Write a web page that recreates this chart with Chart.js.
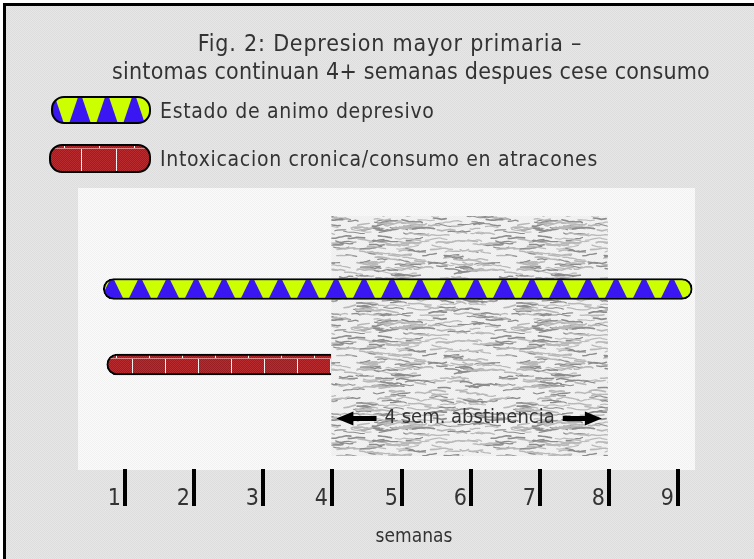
<!DOCTYPE html>
<html>
<head>
<meta charset="utf-8">
<script src="https://cdn.jsdelivr.net/npm/chart.js@4.4.1/dist/chart.umd.min.js"></script>
<style>
  html, body { margin: 0; padding: 0; background: #fff; overflow: hidden; }
  #wrap { width: 754px; height: 559px; position: relative; }
</style>
</head>
<body>
<div id="wrap"><canvas id="chart"></canvas></div>
<script>
const titleLines = ['Fig. 2: Depresion mayor primaria \u2013', 'sintomas continuan 4+ semanas despues cese consumo'];
const seriesLabels = ['Estado de animo depresivo', 'Intoxicacion cronica/consumo en atracones'];
const seriesStart = [0.7, 0.75];   // semanas
const seriesEnd = [9.22, 4.0];
const weekTicks = [1, 2, 3, 4, 5, 6, 7, 8, 9];
const abstinenceWeeks = [4, 8];
const abstinenceLabel = '4 sem. abstinencia';
const axisTitle = 'semanas';

const FONT = "'Liberation Sans Narrow', 'DejaVu Sans Condensed', 'Noto Sans', sans-serif";
const YELLOW = '#ccff00', BLUE = '#3a16f2';
const TEXT = '#333';

function tile(w, h, draw) {
    const c = document.createElement('canvas');
    c.width = w; c.height = h;
    draw(c.getContext('2d'), w, h);
    return c;
}

function dotted(g, w, h, base, dot) {
    g.fillStyle = base;
    g.fillRect(0, 0, w, h);
    g.fillStyle = dot;
    for (let y = 0; y < h; y++)
        for (let x = y % 2; x < w; x += 2) g.fillRect(x, y, 1, 1);
}

function drawTriangles(g, w, h, period, phase) {
    g.fillStyle = BLUE;
    g.fillRect(0, 0, w, h);
    g.fillStyle = YELLOW;
    for (let x0 = phase - period; x0 < w + period; x0 += period) {
        g.beginPath();
        g.moveTo(x0 + period * 0.06, 0);
        g.lineTo(x0 + period * 0.94, 0);
        g.lineTo(x0 + period * 0.59, h);
        g.lineTo(x0 + period * 0.41, h);
        g.closePath();
        g.fill();
    }
}

function drawBricks(g, w, h, brick, phase) {
    dotted(g, w, h, '#b82c2f', '#9a1d21');
    const top = 4;
    g.fillStyle = '#d98a8a';
    g.fillRect(0, top, w, 1);
    g.fillStyle = '#f4f4f4';
    for (let x = phase; x < w + brick; x += brick) {
        g.fillRect(Math.round(x), top + 1, 1, h - top - 1);
        g.fillRect(Math.round(x - brick / 2), 0, 1, top);
    }
}

// stone texture for the abstinence window (fixed seed, texture only)
function drawStone(g, w, h) {
    dotted(g, w, h, '#f4f4f4', '#ededed');
    let s = 12345;
    const rnd = () => (s = (s * 16807) % 2147483647) / 2147483647;
    g.lineCap = 'round';
    for (let i = 0; i < 290; i++) {
        const x = rnd() * w, y = rnd() * h;
        const seg = 3 + Math.floor(rnd() * 4);
        g.strokeStyle = rnd() < 0.45 ? '#8c8c8c' : '#b8b8b8';
        g.lineWidth = 1 + rnd() * 0.7;
        const pts = [[0, 0]];
        for (let k = 0; k < seg; k++) {
            const p = pts[pts.length - 1];
            pts.push([p[0] + 2 + rnd() * 3, p[1] + (rnd() - 0.5) * 2.4]);
        }
        for (const dx of [-w, 0, w]) for (const dy of [-h, 0, h]) {
            g.beginPath();
            pts.forEach((p, k) => k ? g.lineTo(x + dx + p[0], y + dy + p[1]) : g.moveTo(x + dx + p[0], y + dy + p[1]));
            g.stroke();
        }
    }
}

const tmp = document.createElement('canvas').getContext('2d');
const pagePattern = tmp.createPattern(tile(4, 4, (g, w, h) => dotted(g, w, h, '#e6e6e6', '#dedede')), 'repeat');
const plotPattern = tmp.createPattern(tile(4, 4, (g, w, h) => dotted(g, w, h, '#fbfbfb', '#f1f1f1')), 'repeat');
const stonePattern = tmp.createPattern(tile(160, 100, drawStone), 'repeat');
const triPattern = tmp.createPattern(tile(28, 20, (g, w, h) => drawTriangles(g, w, h, 28, 0)), 'repeat');
const brickPattern = tmp.createPattern(tile(33, 21, (g, w, h) => drawBricks(g, w, h, 33, 0)), 'repeat');
const barPatterns = [triPattern, brickPattern];
const barSizes = [21, 21];

// legend icons
const legendIcons = [
    tile(100, 28, (g) => {
        g.beginPath(); g.roundRect(1, 1, 98, 26, 12); g.save(); g.clip();
        drawTriangles(g, 100, 28, 27, 2); g.restore();
        g.lineWidth = 2; g.strokeStyle = '#000'; g.beginPath(); g.roundRect(1, 1, 98, 26, 12); g.stroke();
    }),
    tile(102, 29, (g) => {
        g.beginPath(); g.roundRect(1, 1, 100, 27, 12); g.save(); g.clip();
        drawBricks(g, 102, 29, 35, 32); g.restore();
        g.lineWidth = 2; g.strokeStyle = '#000'; g.beginPath(); g.roundRect(1, 1, 100, 27, 12); g.stroke();
    })
];

function setFont(ctx, size, spacing) {
    ctx.font = size + 'px ' + FONT;
    try { ctx.fontStretch = 'condensed'; } catch (e) {}
    try { ctx.letterSpacing = (spacing || 0) + 'px'; } catch (e) {}
}

function arrow(ctx, xTail, xHead, y) {
    const dir = Math.sign(xHead - xTail);
    ctx.fillStyle = '#000';
    ctx.fillRect(Math.min(xTail, xHead - dir * 12), y - 2, Math.abs(xHead - dir * 12 - xTail), 5);
    ctx.beginPath();
    ctx.moveTo(xHead, y + 0.5);
    ctx.lineTo(xHead - dir * 17, y - 6.5);
    ctx.lineTo(xHead - dir * 17, y + 7.5);
    ctx.closePath();
    ctx.fill();
}

const backdrop = {
    id: 'backdrop',
    beforeDraw(chart) {
        const { ctx, chartArea: a, width, height } = chart;
        ctx.save();
        ctx.fillStyle = '#fff';
        ctx.fillRect(0, 0, width, height);
        ctx.fillStyle = pagePattern;
        ctx.fillRect(3, 3, width - 3, height - 3);
        ctx.fillStyle = '#000';
        ctx.fillRect(3, 3, width - 3, 3);
        ctx.fillRect(3, 3, 3, height - 3);
        ctx.fillStyle = plotPattern;
        ctx.fillRect(a.left, a.top, a.right - a.left, a.bottom - a.top);
        ctx.restore();
    },
    beforeDatasetsDraw(chart) {
        const y = chart.scales.y;
        barPatterns.forEach((p, i) => {
            const top = y.getPixelForValue(i + 1) - barSizes[i] / 2;
            p.setTransform(new DOMMatrix([1, 0, 0, 1, 0, Math.round(top)]));
        });
    },
    beforeDatasetDraw(chart, args) {
        if (args.index !== 0) return;
        const { ctx, chartArea: a } = chart;
        const x = chart.scales.x;
        const x0 = x.getPixelForValue(abstinenceWeeks[0]);
        const x1 = x.getPixelForValue(abstinenceWeeks[1]);
        ctx.save();
        ctx.fillStyle = stonePattern;
        ctx.fillRect(x0, a.top + 28, x1 - x0, a.bottom - a.top - 42);
        // "4 sem. abstinencia" with arrows
        const yA = a.top + 230;
        setFont(ctx, 20);
        ctx.fillStyle = TEXT;
        ctx.textAlign = 'center';
        ctx.textBaseline = 'middle';
        const cx = (x0 + x1) / 2;
        ctx.fillText(abstinenceLabel, cx, yA);
        const tw = ctx.measureText(abstinenceLabel).width;
        arrow(ctx, cx - tw / 2 - 8, x0 + 5, yA);
        arrow(ctx, cx + tw / 2 + 8, x1 - 6, yA);
        ctx.restore();
    },
    afterDraw(chart) {
        const { ctx, chartArea: a } = chart;
        const x = chart.scales.x;
        ctx.save();
        ctx.fillStyle = TEXT;
        ctx.textBaseline = 'middle';
        // title
        ctx.textAlign = 'center';
        setFont(ctx, 23, 0.8);
        ctx.fillText(titleLines[0], 390, 45);
        setFont(ctx, 23, 0.2);
        ctx.fillText(titleLines[1], 411, 73);
        // legend
        setFont(ctx, 21, 0.7);
        ctx.textAlign = 'left';
        ctx.drawImage(legendIcons[0], 51, 96);
        ctx.drawImage(legendIcons[1], 49, 144);
        ctx.fillText(seriesLabels[0], 160, 113);
        ctx.fillText(seriesLabels[1], 160, 161);
        // week ticks
        setFont(ctx, 23);
        ctx.textAlign = 'right';
        ctx.textBaseline = 'alphabetic';
        weekTicks.forEach(w => {
            const px = Math.round(x.getPixelForValue(w));
            ctx.fillStyle = '#000';
            ctx.fillRect(px - 1, a.bottom - 1, 4, 37);
            ctx.fillStyle = TEXT;
            ctx.fillText(String(w), px - 3, a.bottom + 35);
        });
        setFont(ctx, 19);
        ctx.textAlign = 'center';
        ctx.textBaseline = 'middle';
        ctx.fillText(axisTitle, 414, 537);
        ctx.restore();
    }
};

new Chart(document.getElementById('chart'), {
    type: 'bar',
    data: {
        datasets: seriesLabels.map((label, i) => ({
            label: label,
            data: [{ x: [seriesStart[i], seriesEnd[i]], y: i + 1 }],
            backgroundColor: barPatterns[i],
            borderColor: '#000',
            borderWidth: 2,
            borderRadius: 11,
            borderSkipped: i === 0 ? false : 'end',
            grouped: false,
            barPercentage: 1,
            categoryPercentage: 1,
            maxBarThickness: barSizes[i]
        }))
    },
    options: {
        indexAxis: 'y',
        responsive: true,
        maintainAspectRatio: false,
        animation: false,
        layout: { padding: { left: 78, right: 59, top: 188, bottom: 89 } },
        scales: {
            x: { type: 'linear', min: 0.3345, max: 9.26, offset: false, display: false },
            y: { type: 'linear', min: -0.338, max: 3.397, reverse: true, offset: false, display: false, ticks: { stepSize: 1 } }
        },
        plugins: {
            legend: { display: false },
            title: { display: false },
            tooltip: { enabled: false }
        }
    },
    plugins: [backdrop]
});
</script>
</body>
</html>
